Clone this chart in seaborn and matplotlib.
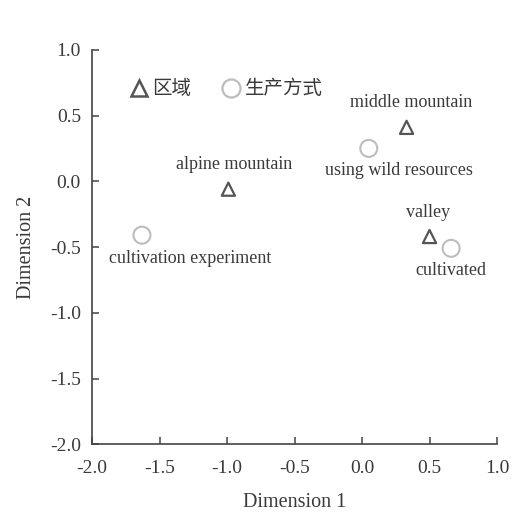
import matplotlib
matplotlib.use("Agg")
import matplotlib.pyplot as plt
from matplotlib.lines import Line2D
import seaborn as sns
import pandas as pd

# data
region_labels = ["alpine mountain", "middle mountain", "valley"]
region_x = [-0.99, 0.33, 0.50]
region_y = [-0.06, 0.41, -0.42]

mode_labels = ["cultivation experiment", "using wild resources", "cultivated"]
mode_x = [-1.63, 0.05, 0.66]
mode_y = [-0.41, 0.25, -0.51]

legend_names = ["区域", "生产方式"]
x_ticks = [-2.0, -1.5, -1.0, -0.5, 0.0, 0.5, 1.0]
y_ticks = [-2.0, -1.5, -1.0, -0.5, 0.0, 0.5, 1.0]

sns.set_style("ticks")
plt.rcParams["font.family"] = ["Liberation Serif", "Noto Sans CJK SC", "DejaVu Sans"]

fig = plt.figure(figsize=(5.14, 5.13), dpi=100)
ax = fig.add_axes([0.179, 0.134, 0.788, 0.769])

dark = "#555555"
light = "#bdbdbd"
txt = "#3a3a3a"

df_r = pd.DataFrame({"x": region_x, "y": region_y, "label": region_labels})
df_m = pd.DataFrame({"x": mode_x, "y": mode_y, "label": mode_labels})

sns.scatterplot(data=df_r, x="x", y="y", marker="^", s=90, facecolor="none",
                edgecolor=dark, linewidth=1.6, ax=ax, zorder=3)
sns.scatterplot(data=df_m, x="x", y="y", marker="o", s=150, facecolor="none",
                edgecolor=light, linewidth=1.5, ax=ax, zorder=3)

# label offsets in points (dx, dy)
r_off = {"alpine mountain": (4, 18), "middle mountain": (3, 18), "valley": (-1, 17)}
m_off = {"cultivation experiment": (35, -17), "using wild resources": (22, -16), "cultivated": (0, -16)}
for _, r in df_r.iterrows():
    ax.annotate(r["label"], (r["x"], r["y"]), xytext=r_off[r["label"]], textcoords="offset points",
                ha="center", va="center", fontsize=13, color=txt)
for _, r in df_m.iterrows():
    ax.annotate(r["label"], (r["x"], r["y"]), xytext=m_off[r["label"]], textcoords="offset points",
                ha="center", va="center", fontsize=13, color=txt)

handles = [
    Line2D([], [], marker="^", linestyle="none", markersize=11, markerfacecolor="none",
           markeredgecolor=dark, markeredgewidth=1.8),
    Line2D([], [], marker="o", linestyle="none", markersize=13, markerfacecolor="none",
           markeredgecolor=light, markeredgewidth=1.6),
]
leg = ax.legend(handles, legend_names, ncol=2, frameon=False, loc="center left",
                bbox_to_anchor=(0.043, 0.90), fontsize=14, handletextpad=0.1,
                columnspacing=1.45, handlelength=1.2)
for t in leg.get_texts():
    t.set_color(txt)

ax.set_xlim(-2.0, 1.0)
ax.set_ylim(-2.0, 1.0)
ax.set_xticks(x_ticks)
ax.set_yticks(y_ticks)
ax.set_xticklabels([f"{v:.1f}" for v in x_ticks])
ax.set_yticklabels([f"{v:.1f}" for v in y_ticks])
ax.tick_params(direction="in", length=5, width=1.1, colors="#444444", labelsize=14,
               labelcolor=txt, pad=8)
ax.tick_params(axis="x", pad=11)
for s in ["top", "right"]:
    ax.spines[s].set_visible(False)
for s in ["left", "bottom"]:
    ax.spines[s].set_color("#444444")
    ax.spines[s].set_linewidth(1.2)

ax.set_xlabel("Dimension 1", fontsize=14.5, color=txt, labelpad=12)
ax.set_ylabel("Dimension 2", fontsize=14.5, color=txt, labelpad=10)

fig.savefig("out.png", dpi=100, facecolor="white")
